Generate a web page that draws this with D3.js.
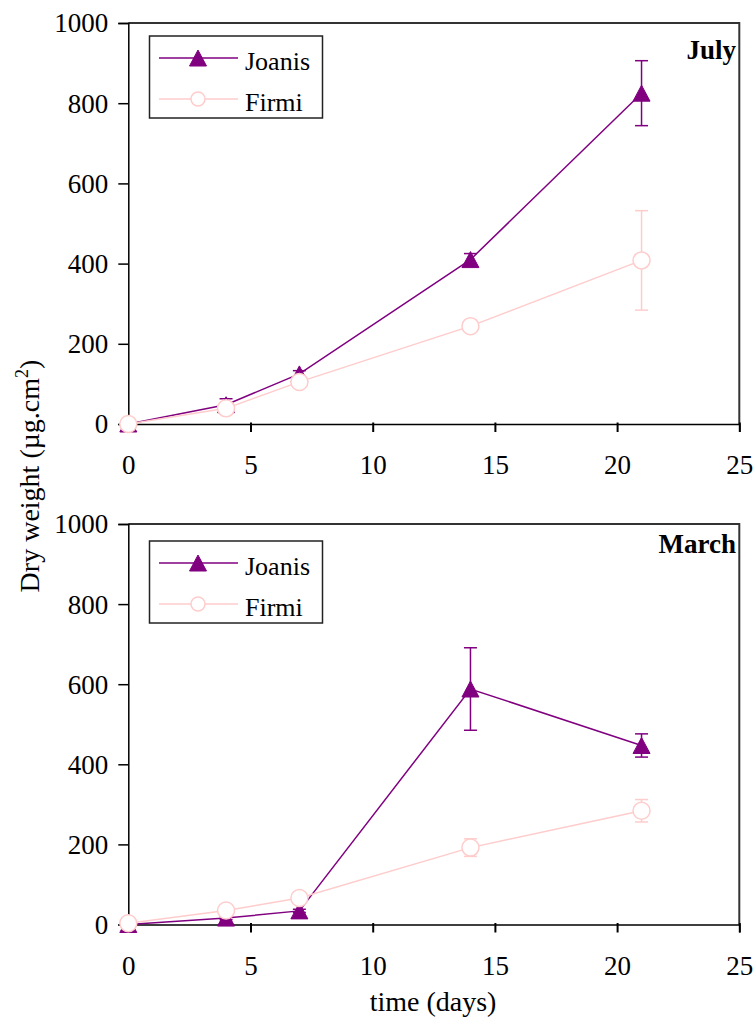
<!DOCTYPE html>
<html>
<head>
<meta charset="utf-8">
<script src="https://cdn.jsdelivr.net/npm/d3@7"></script>
<style>
  html, body { margin: 0; padding: 0; background: #fff; }
  svg { display: block; }
  svg text { font-family: "Liberation Serif", "Times New Roman", serif; }
</style>
</head>
<body>
<svg id="chart" width="753" height="1018" font-family="Liberation Serif, serif"></svg>
<script>
// ---- data ----
const days = [0, 4, 7, 14, 21];
const julyJoanis = [0, 48, 125, 410, 825];
const julyJoanisErr = [0, 15, 8, 15, 81];
const julyFirmi = [0, 39, 105, 244, 408];
const julyFirmiErr = [0, 5, 5, 8, 124];
const marchJoanis = [0, 16, 34, 588, 447];
const marchJoanisErr = [0, 4, 4, 103, 29];
const marchFirmi = [3, 35, 66, 192, 284];
const marchFirmiErr = [0, 5, 5, 22, 28];
const seriesNames = ["Joanis", "Firmi"];
const panelTitles = ["July", "March"];
const xTicks = [0, 5, 10, 15, 20, 25];
const yTicks = [0, 200, 400, 600, 800, 1000];
const xLabel = "time (days)";

// ---- styles ----
const FONT = "Liberation Serif";
const colJ = "#800080";
const colF = "#ffcccc";
const svg = d3.select("#chart");
const left = 128.3, right = 739.3;
const panels = [
  { top: 23, bottom: 424, title: panelTitles[0], titleY: 59, legendTop: 36,
    series: [
      { name: seriesNames[0], vals: julyJoanis, err: julyJoanisErr, color: colJ, marker: "tri" },
      { name: seriesNames[1], vals: julyFirmi, err: julyFirmiErr, color: colF, marker: "circ" }
    ] },
  { top: 524, bottom: 924.5, title: panelTitles[1], titleY: 553, legendTop: 541,
    series: [
      { name: seriesNames[0], vals: marchJoanis, err: marchJoanisErr, color: colJ, marker: "tri" },
      { name: seriesNames[1], vals: marchFirmi, err: marchFirmiErr, color: colF, marker: "circ" }
    ] }
];

const x = d3.scaleLinear().domain([0, 25]).range([left, right]);

function drawMarker(g, type, cx, cy, color, small) {
  if (type === "tri") {
    const w = 17, h = 16;
    g.append("path")
      .attr("d", `M${cx},${cy - h / 2} L${cx + w / 2},${cy + h / 2} L${cx - w / 2},${cy + h / 2} Z`)
      .attr("fill", color).attr("stroke", color).attr("stroke-width", 1);
  } else {
    g.append("circle").attr("cx", cx).attr("cy", cy).attr("r", small ? 7 : 8.5)
      .attr("fill", "#fff").attr("stroke", color).attr("stroke-width", 1.5);
  }
}

panels.forEach(p => {
  const y = d3.scaleLinear().domain([0, 1000]).range([p.bottom, p.top]);
  const g = svg.append("g");

  // plot border (top & right)
  g.append("path")
    .attr("d", `M${left},${p.top} H${right} V${p.bottom}`)
    .attr("fill", "none").attr("stroke", "#333").attr("stroke-width", 2);

  // y axis
  const ya = g.append("g").attr("transform", `translate(${left},0)`)
    .call(d3.axisLeft(y).tickValues(yTicks).tickSize(10).tickPadding(10).tickFormat(d3.format("d")));
  ya.attr("font-family", FONT);
  ya.select(".domain").attr("stroke", "#000").attr("stroke-width", 1.5);
  ya.selectAll(".tick line").attr("stroke", "#000").attr("stroke-width", 1.5);
  ya.selectAll(".tick text").attr("font-size", 27).attr("fill", "#000")
    .attr("font-family", FONT).attr("dy", "0.33em");

  // x axis
  const xa = g.append("g").attr("transform", `translate(0,${p.bottom})`)
    .call(d3.axisBottom(x).tickValues(xTicks).tickSize(8).tickPadding(23).tickFormat(d3.format("d")));
  xa.attr("font-family", FONT);
  xa.select(".domain").attr("stroke", "#000").attr("stroke-width", 1.5);
  xa.selectAll(".tick line").attr("stroke", "#000").attr("stroke-width", 2).attr("y1", -1.5);
  xa.selectAll(".tick text").attr("font-size", 27).attr("fill", "#000")
    .attr("font-family", FONT);

  // series
  p.series.forEach(s => {
    const sg = g.append("g");
    // error bars
    s.vals.forEach((v, i) => {
      const e = s.err[i];
      if (!e) return;
      const cx = x(days[i]);
      const y1 = y(v + e), y2 = y(v - e);
      sg.append("line").attr("x1", cx).attr("x2", cx).attr("y1", y1).attr("y2", y2)
        .attr("stroke", s.color).attr("stroke-width", 1.5);
      [y1, y2].forEach(yy => sg.append("line").attr("x1", cx - 6.5).attr("x2", cx + 6.5)
        .attr("y1", yy).attr("y2", yy).attr("stroke", s.color).attr("stroke-width", 1.5));
    });
    // line
    const line = d3.line().x((d, i) => x(days[i])).y(d => y(d));
    sg.append("path").datum(s.vals).attr("d", line)
      .attr("fill", "none").attr("stroke", s.color).attr("stroke-width", 1.5);
    // markers
    s.vals.forEach((v, i) => drawMarker(sg, s.marker, x(days[i]), y(v), s.color, false));
  });

  // legend
  const lg = g.append("g");
  const lt = p.legendTop;
  lg.append("rect").attr("x", 149.5).attr("y", lt).attr("width", 173).attr("height", 82)
    .attr("fill", "#fff").attr("stroke", "#222").attr("stroke-width", 1.5);
  p.series.forEach((s, k) => {
    const ry = lt + 22 + k * 41;
    lg.append("line").attr("x1", 159).attr("x2", 238).attr("y1", ry).attr("y2", ry)
      .attr("stroke", s.color).attr("stroke-width", 1.5);
    drawMarker(lg, s.marker, 198, ry, s.color, true);
    lg.append("text").attr("x", 245).attr("y", ry + 12).attr("font-size", 26)
      .attr("font-family", FONT).attr("fill", "#000").text(s.name);
  });

  // panel title
  g.append("text").attr("x", 736).attr("y", p.titleY).attr("text-anchor", "end")
    .attr("font-family", FONT).attr("font-size", 27).attr("font-weight", "bold")
    .attr("fill", "#000").text(p.title);
});

// y axis title
const yt = svg.append("text")
  .attr("transform", "translate(39,476) rotate(-90)")
  .attr("text-anchor", "middle").attr("font-family", FONT).attr("font-size", 28).attr("fill", "#000");
yt.append("tspan").text("Dry weight (\u00b5g.cm");
yt.append("tspan").attr("dy", -11).attr("font-size", 18).text("2");
yt.append("tspan").attr("dy", 11).text(")");

// x axis title
svg.append("text").attr("x", 433).attr("y", 1011).attr("text-anchor", "middle")
  .attr("font-family", FONT).attr("font-size", 28).attr("fill", "#000").text(xLabel);
</script>
</body>
</html>
